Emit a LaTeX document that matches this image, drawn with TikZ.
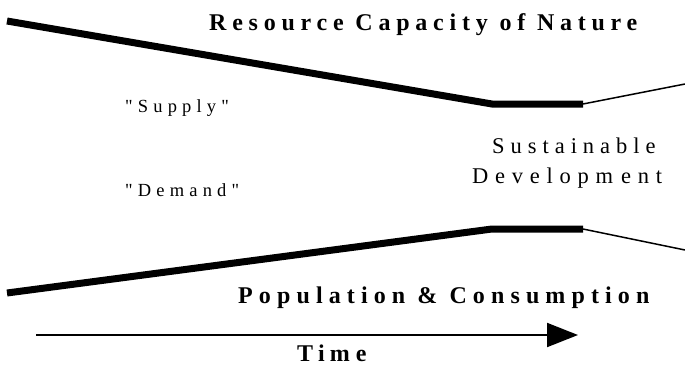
\documentclass[tikz,border=0pt]{standalone}
\usepackage{fontspec}
\setmainfont{Liberation Serif}
\usetikzlibrary{arrows.meta}
% letter-spaced serif faces, one tracking value per label
\newfontfamily\trackedserif{Liberation Serif}
\newcommand{\tracked}[1]{\trackedserif\addfontfeatures{LetterSpace=#1}}
\begin{document}
\begin{tikzpicture}[x=1pt,y=-1pt,
  heading/.style={inner sep=0pt,anchor=base west,font=\bfseries\fontsize{24}{28}\selectfont},
  caption/.style={inner sep=0pt,anchor=base west,font=\fontsize{18.5}{22}\selectfont},
  sdlabel/.style={inner sep=0pt,anchor=base west,font=\fontsize{22.5}{26}\selectfont},
  trendthick/.style={line width=7pt},
  trendthin/.style={line width=1.5pt},
  timeaxis/.style={line width=2pt,-{Triangle[length=31pt,width=24pt]}}]
\useasboundingbox (0,0) rectangle (685,367);

% supply curve: resource capacity of nature
\coordinate (s0) at (7,21);
\coordinate (s1) at (492,104);
\coordinate (s2) at (583,104);
\coordinate (s3) at (685,84);
\draw[trendthick] (s0) -- (s1) -- (s2);
\draw[trendthin] (s2) -- (s3);

% demand curve: population and consumption
\coordinate (d0) at (7,293);
\coordinate (d1) at (492,229);
\coordinate (d2) at (583,229);
\coordinate (d3) at (685,250);
\draw[trendthick] (d0) -- (d1) -- (d2);
\draw[trendthin] (d2) -- (d3);

% time axis
\coordinate (t0) at (36,335);
\coordinate (t1) at (578,335);
\draw[timeaxis] (t0) -- (t1);

% labels
\node[heading] (res) at (209,30) {\tracked{24}\bfseries Resource Capacity of Nature};
\node[caption] (sup) at (125,112) {\tracked{28}"Supply"};
\node[caption] (dem) at (125,196) {\tracked{28}"Demand"};
\node[sdlabel] (sus) at (492,153) {\tracked{26.5}Sustainable};
\node[sdlabel] (dev) at (472,183) {\tracked{30}Developm\kern8pt ent};
\node[heading] (pop) at (238,303) {\tracked{25.5}\bfseries Population \& Consumption};
\node[heading] (tim) at (297,361) {\tracked{22}\bfseries Tim\kern6pt e};
\end{tikzpicture}
\end{document}
